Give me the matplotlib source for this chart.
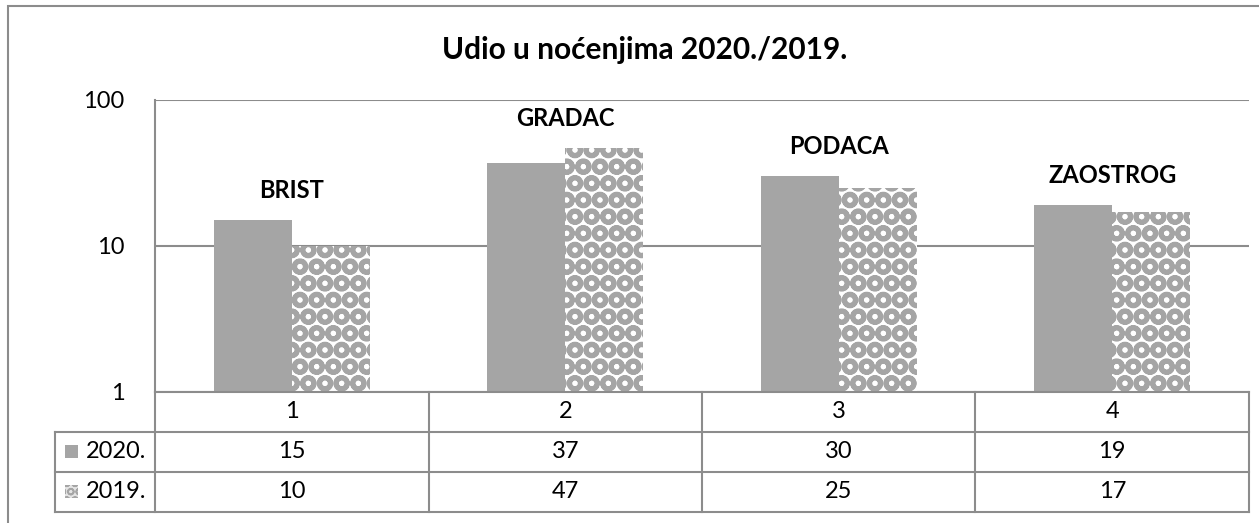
import numpy as np
import matplotlib
matplotlib.use('Agg')
from matplotlib import pyplot as plt
from matplotlib.patches import Rectangle
from matplotlib.lines import Line2D

plt.rcParams['font.family'] = ['Lato', 'DejaVu Sans']
plt.rcParams['hatch.linewidth'] = 3.5

places = ['BRIST', 'GRADAC', 'PODACA', 'ZAOSTROG']
col_labels = ['1', '2', '3', '4']
series_names = ['2020.', '2019.']
vals_2020 = [15, 37, 30, 19]
vals_2019 = [10, 47, 25, 17]
title = 'Udio u noćenjima 2020./2019.'

bar_gray = '#a5a5a5'
line_gray = '#8c8c8c'
fs = 17

W, H = 1259, 523
fig = plt.figure(figsize=(W / 100, H / 100), dpi=100)

# outer chart border
fig.patches.append(Rectangle((8 / W, -0.05), 1.2, (H - 6) / H + 0.05, transform=fig.transFigure,
                             fill=False, ec=line_gray, lw=1.5))

ax = fig.add_axes([155 / W, (H - 392) / H, 1094 / W, 292 / H])
x = np.arange(len(places))
bw = 0.285
ax.bar(x - bw / 2, vals_2020, bw, color=bar_gray, lw=0, zorder=3)
ax.bar(x + bw / 2, vals_2019, bw, color='white', edgecolor=bar_gray, hatch='O', lw=0, zorder=3)

ax.set_yscale('log')
ax.set_ylim(1, 100)
ax.set_xlim(-0.5, 3.5)
ax.set_yticks([1, 10, 100])
ax.set_yticklabels(['1', '10', '100'], fontsize=fs)
ax.yaxis.set_minor_locator(matplotlib.ticker.NullLocator())
ax.tick_params(axis='y', length=0, pad=22)
ax.set_xticks([])
ax.grid(axis='y', color=line_gray, lw=1.5, zorder=0)
for s in ['top', 'right', 'bottom']:
    ax.spines[s].set_visible(False)
ax.spines['left'].set_color(line_gray)
ax.spines['left'].set_linewidth(1.5)

for i, name in enumerate(places):
    top = max(vals_2020[i], vals_2019[i])
    ax.annotate(name, (x[i], top), xytext=(0, 13), textcoords='offset points',
                ha='center', va='bottom', fontsize=fs, fontweight='bold')

fig.text(645 / W, 1 - 50 / H, title, ha='center', va='center', fontsize=21.5, fontweight='bold')

# data table under the axis (pixel layout converted to figure fraction)
def fx(px):
    return px / W

def fy(py):
    return 1 - py / H

col_edges = [155 + k * 1094 / 4 for k in range(5)]
row_edges = [392, 432, 472, 512]
tr = fig.transFigure
kw = dict(color=line_gray, lw=1.5, transform=tr)
fig.add_artist(Line2D([fx(155), fx(1249)], [fy(392), fy(392)], **kw))
for py in row_edges[1:]:
    fig.add_artist(Line2D([fx(55), fx(1249)], [fy(py), fy(py)], **kw))
for px in col_edges:
    fig.add_artist(Line2D([fx(px), fx(px)], [fy(392), fy(512)], **kw))
fig.add_artist(Line2D([fx(55), fx(55)], [fy(432), fy(512)], **kw))

for k, lab in enumerate(col_labels):
    cx = (col_edges[k] + col_edges[k + 1]) / 2
    fig.text(fx(cx), fy(412), lab, ha='center', va='center', fontsize=fs)
    fig.text(fx(cx), fy(452), str(vals_2020[k]), ha='center', va='center', fontsize=fs)
    fig.text(fx(cx), fy(492), str(vals_2019[k]), ha='center', va='center', fontsize=fs)

fig.patches.append(Rectangle((fx(65), fy(458)), 13 / W, 13 / H, transform=tr,
                             color=bar_gray, lw=0))
plt.rcParams['hatch.linewidth'] = 1.2
fig.patches.append(Rectangle((fx(65), fy(498)), 13 / W, 13 / H, transform=tr,
                             facecolor='#e4e4e4', edgecolor=bar_gray, hatch='OO', lw=0))
fig.text(fx(86), fy(452), series_names[0], ha='left', va='center', fontsize=fs)
fig.text(fx(86), fy(492), series_names[1], ha='left', va='center', fontsize=fs)

fig.savefig('out.png', dpi=100)
